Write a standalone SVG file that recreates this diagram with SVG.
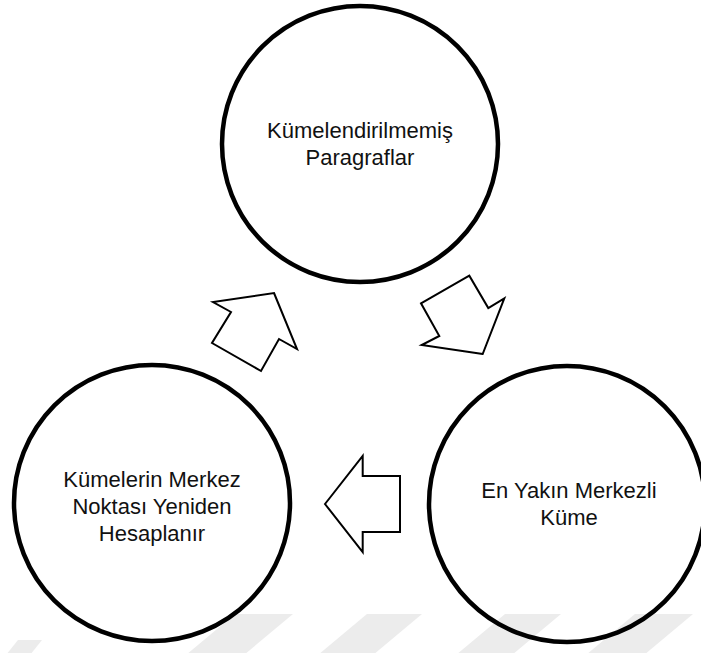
<svg xmlns="http://www.w3.org/2000/svg" width="701" height="653" viewBox="0 0 701 653">
  <style>
    .node circle { fill: none; stroke: #000; stroke-width: 4.5; }
    .label { font-family: "Liberation Sans", Arial, sans-serif; font-size: 22px; fill: #111; text-anchor: middle; }
    .flow polygon { fill: #fff; stroke: #000; stroke-width: 2; stroke-linejoin: miter; }
    .mark { fill: #ececec; }
  </style>
  <rect width="701" height="653" fill="#fff"/>

  <!-- faint diagonal bands along the bottom edge -->
  <g id="backdrop">
    <polygon class="mark" points="235,614 293,614 238,660 180,660"/>
    <polygon class="mark" points="367,614 422,614 367,660 312,660"/>
    <polygon class="mark" points="505,614 561,614 506,660 450,660"/>
    <polygon class="mark" points="635,614 693,614 638,660 580,660"/>
    <polygon class="mark" points="18,640 42,640 26,660 2,660"/>
  </g>

  <g id="connectors" class="flow">
    <!-- recompute centroids: left circle toward top circle -->
    <polygon points="274,293 297,349 279,339 261,371 212,343 231,312 213,302"/>
    <!-- top circle toward nearest-centre cluster -->
    <polygon points="482.7,354 421.7,345 439.3,336 421,303.3 469.3,275.7 488.3,308 504.3,298.3"/>
    <!-- nearest-centre cluster back to recompute step -->
    <polygon points="325,504 362.7,456 362.7,476 400,476 400,532 362.7,532 362.7,552"/>
  </g>

  <g id="node-unclustered" class="node">
    <circle cx="360" cy="144" r="138"/>
    <text class="label" x="360" y="138">Kümelendirilmemiş</text>
    <text class="label" x="360" y="165">Paragraflar</text>
  </g>

  <g id="node-nearest" class="node">
    <circle cx="567" cy="504" r="138"/>
    <text class="label" x="569" y="497.5">En Yakın Merkezli</text>
    <text class="label" x="569" y="524.5">Küme</text>
  </g>

  <g id="node-recompute" class="node">
    <circle cx="152" cy="503" r="138"/>
    <text class="label" x="152" y="487">Kümelerin Merkez</text>
    <text class="label" x="152" y="514">Noktası Yeniden</text>
    <text class="label" x="152" y="541">Hesaplanır</text>
  </g>
</svg>
